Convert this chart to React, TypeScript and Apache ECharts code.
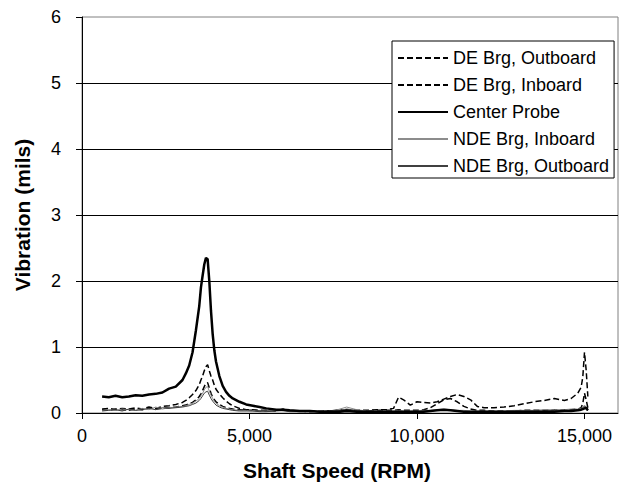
import React, { useEffect, useRef } from "react";
import * as echarts from "echarts";

// Shaft speed samples (RPM)
const rpm = [
  600, 800, 1000, 1200, 1400, 1600, 1800, 2000, 2200, 2400,
  2600, 2800, 3000, 3100, 3200, 3300, 3400, 3500, 3550, 3600,
  3650, 3700, 3750, 3800, 3850, 3900, 3950, 4000, 4100, 4200,
  4300, 4400, 4500, 4700, 4900, 5100, 5300, 5500, 5800, 6000,
  6200, 6500, 6800, 7100, 7400, 7700, 7900, 8200, 8500, 8800,
  9100, 9300, 9450, 9600, 9800, 10000, 10200, 10400, 10600, 10800,
  11000, 11200, 11400, 11600, 11800, 12000, 12300, 12600, 12900, 13200,
  13500, 13800, 14100, 14400, 14600, 14800, 14900, 14950, 15000, 15050,
  15100,
];

// Vibration (mils)
const deOutboard = [
  0.05, 0.04, 0.06, 0.05, 0.04, 0.06, 0.05, 0.08, 0.06, 0.07,
  0.08, 0.09, 0.11, 0.12, 0.14, 0.16, 0.20, 0.25, 0.29, 0.34,
  0.40, 0.45, 0.46, 0.38, 0.30, 0.24, 0.20, 0.17, 0.13, 0.10,
  0.08, 0.07, 0.06, 0.05, 0.04, 0.04, 0.03, 0.03, 0.04, 0.05,
  0.03, 0.03, 0.02, 0.03, 0.03, 0.04, 0.05, 0.04, 0.04, 0.05,
  0.05, 0.07, 0.24, 0.20, 0.12, 0.17, 0.16, 0.15, 0.17, 0.21,
  0.25, 0.28, 0.25, 0.20, 0.10, 0.08, 0.08, 0.09, 0.11, 0.14,
  0.17, 0.19, 0.22, 0.19, 0.22, 0.30, 0.39, 0.55, 0.92, 0.65,
  0.25,
];

const deInboard = [
  0.06, 0.07, 0.05, 0.07, 0.06, 0.08, 0.06, 0.09, 0.07, 0.10,
  0.11, 0.13, 0.16, 0.19, 0.23, 0.28, 0.34, 0.43, 0.50, 0.56,
  0.64, 0.70, 0.73, 0.64, 0.56, 0.50, 0.42, 0.36, 0.29, 0.23,
  0.18, 0.14, 0.11, 0.07, 0.05, 0.05, 0.04, 0.04, 0.03, 0.06,
  0.03, 0.03, 0.03, 0.02, 0.03, 0.05, 0.03, 0.03, 0.03, 0.04,
  0.04, 0.04, 0.05, 0.04, 0.04, 0.04, 0.05, 0.08, 0.14, 0.20,
  0.22, 0.17, 0.10, 0.06, 0.04, 0.04, 0.03, 0.03, 0.03, 0.04,
  0.04, 0.04, 0.05, 0.05, 0.05, 0.06, 0.08, 0.15, 0.30, 0.20,
  0.08,
];

const centerProbe = [
  0.25, 0.24, 0.26, 0.24, 0.25, 0.27, 0.26, 0.28, 0.29, 0.31,
  0.37, 0.40, 0.50, 0.60, 0.72, 0.92, 1.25, 1.62, 1.90, 2.08,
  2.25, 2.35, 2.33, 2.00, 1.55, 1.20, 0.95, 0.78, 0.56, 0.41,
  0.32, 0.26, 0.22, 0.17, 0.13, 0.11, 0.09, 0.07, 0.05, 0.05,
  0.04, 0.03, 0.03, 0.02, 0.02, 0.02, 0.03, 0.02, 0.02, 0.02,
  0.02, 0.02, 0.02, 0.02, 0.02, 0.02, 0.02, 0.03, 0.04, 0.05,
  0.04, 0.03, 0.02, 0.02, 0.02, 0.02, 0.02, 0.02, 0.02, 0.02,
  0.02, 0.02, 0.02, 0.03, 0.03, 0.04, 0.05, 0.06, 0.07, 0.08,
  0.04,
];

const ndeInboard = [
  0.04, 0.05, 0.04, 0.06, 0.05, 0.04, 0.07, 0.05, 0.09, 0.06,
  0.08, 0.09, 0.10, 0.11, 0.13, 0.15, 0.18, 0.22, 0.26, 0.30,
  0.35, 0.39, 0.40, 0.33, 0.27, 0.22, 0.18, 0.15, 0.11, 0.09,
  0.07, 0.06, 0.05, 0.04, 0.04, 0.03, 0.03, 0.03, 0.04, 0.03,
  0.03, 0.02, 0.02, 0.03, 0.02, 0.06, 0.09, 0.05, 0.03, 0.03,
  0.03, 0.03, 0.04, 0.03, 0.03, 0.03, 0.04, 0.04, 0.05, 0.06,
  0.05, 0.04, 0.04, 0.03, 0.03, 0.03, 0.03, 0.03, 0.04, 0.04,
  0.04, 0.05, 0.05, 0.05, 0.06, 0.06, 0.07, 0.09, 0.12, 0.08,
  0.05,
];

const ndeOutboard = [
  0.03, 0.04, 0.05, 0.03, 0.06, 0.04, 0.05, 0.07, 0.05, 0.08,
  0.07, 0.08, 0.09, 0.10, 0.11, 0.13, 0.15, 0.19, 0.22, 0.26,
  0.30, 0.32, 0.33, 0.27, 0.22, 0.18, 0.15, 0.12, 0.09, 0.07,
  0.06, 0.05, 0.04, 0.03, 0.03, 0.03, 0.02, 0.02, 0.03, 0.04,
  0.02, 0.02, 0.02, 0.02, 0.03, 0.04, 0.06, 0.04, 0.02, 0.02,
  0.02, 0.02, 0.03, 0.02, 0.02, 0.02, 0.03, 0.03, 0.04, 0.05,
  0.04, 0.03, 0.02, 0.02, 0.02, 0.02, 0.02, 0.02, 0.03, 0.03,
  0.03, 0.03, 0.04, 0.04, 0.04, 0.05, 0.06, 0.08, 0.10, 0.06,
  0.03,
];

const xTicks = [0, 5000, 10000, 15000];
const seriesNames = [
  "DE Brg, Outboard",
  "DE Brg, Inboard",
  "Center Probe",
  "NDE Brg, Inboard",
  "NDE Brg, Outboard",
];

const FONT = '"Liberation Sans", Arial, Helvetica, sans-serif';

export default function App() {
  const ref = useRef<HTMLDivElement>(null);

  useEffect(() => {
    if (!ref.current) return;
    const chart = echarts.init(ref.current, undefined, { renderer: "svg" });
    const pair = (vals: number[]) => rpm.map((x, i) => [x, vals[i]]);
    const styles = [
      { color: "#000", width: 1.5, type: [6, 3] },
      { color: "#000", width: 1.5, type: [6, 3] },
      { color: "#000", width: 2.5, type: "solid" },
      { color: "#8c8c8c", width: 1, type: "solid" },
      { color: "#404040", width: 1, type: "solid" },
    ];
    const allVals = [deOutboard, deInboard, centerProbe, ndeInboard, ndeOutboard];

    chart.setOption({
      animation: false,
      backgroundColor: "#fff",
      textStyle: { fontFamily: FONT },
      grid: {
        left: 82,
        top: 17,
        right: 1,
        bottom: 85,
        containLabel: false,
        outerBoundsMode: "none",
        show: true,
        borderColor: "#808080",
        borderWidth: 1,
        backgroundColor: "transparent",
      },
      legend: {
        orient: "vertical",
        left: 392,
        top: 41,
        padding: [8, 5, 3, 5],
        itemGap: 9,
        itemWidth: 50,
        itemHeight: 18,
        itemTextGap: 4,
        borderColor: "#000",
        borderWidth: 1,
        backgroundColor: "#fff",
        itemStyle: { opacity: 0 },
        textStyle: { fontFamily: FONT, fontSize: 18, color: "#000", lineHeight: 18 },
        data: seriesNames,
      },
      xAxis: {
        type: "value",
        min: 0,
        max: 16000,
        interval: 5000,
        axisLine: { show: true, lineStyle: { color: "#000", width: 1 } },
        axisTick: {
          show: true,
          inside: false,
          length: 6,
          lineStyle: { color: "#000" },
          customValues: xTicks,
        },
        axisLabel: {
          fontFamily: FONT,
          fontSize: 18,
          color: "#000",
          margin: 14,
          customValues: xTicks,
          formatter: (v: number) => v.toLocaleString("en-US"),
        },
        splitLine: { show: false },
      },
      yAxis: {
        type: "value",
        min: 0,
        max: 6,
        interval: 1,
        name: "Vibration (mils)",
        nameLocation: "middle",
        nameGap: 49,
        nameRotate: 90,
        nameTextStyle: { fontFamily: FONT, fontSize: 21, fontWeight: "bold", color: "#000" },
        axisLine: { show: true, lineStyle: { color: "#000", width: 1 } },
        axisTick: { show: true, inside: false, length: 6, lineStyle: { color: "#000" } },
        axisLabel: { fontFamily: FONT, fontSize: 18, color: "#000", margin: 21 },
        splitLine: { show: true, showMaxLine: false, lineStyle: { color: "#000", width: 1 } },
      },
      graphic: [
        {
          type: "text",
          x: 337,
          y: 470,
          style: {
            text: "Shaft Speed (RPM)",
            font: `bold 21px ${FONT}`,
            fill: "#000",
            align: "center",
            verticalAlign: "middle",
          },
        },
      ],
      series: seriesNames.map((name, k) => ({
        name,
        type: "line",
        symbol: "none",
        showSymbol: false,
        data: pair(allVals[k]),
        itemStyle: { color: styles[k].color },
        lineStyle: {
          color: styles[k].color,
          width: styles[k].width,
          type: styles[k].type,
        },
        z: k === 2 ? 5 : 3,
      })),
    });
    return () => chart.dispose();
  }, []);

  return (
    <div
      ref={ref}
      style={{ position: "fixed", left: 0, top: 0, width: 619, height: 498, background: "#fff" }}
    />
  );
}
